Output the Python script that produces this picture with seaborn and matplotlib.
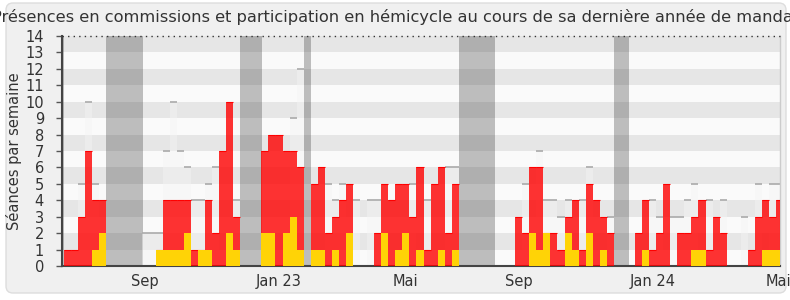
import matplotlib
matplotlib.use("Agg")
import matplotlib.pyplot as plt
import matplotlib.transforms as mtransforms
from matplotlib.patches import FancyBboxPatch
import numpy as np
import pandas as pd
import seaborn as sns

# ---- data: one value per week (week 0 = first week shown) ----
commission = [1, 1, 3, 7, 4, 4, 0, 0, 0, 0,
              0, 0, 0, 1, 4, 4, 4, 4, 1, 1,
              4, 2, 7, 10, 3, 0, 0, 0, 7, 8,
              8, 7, 7, 6, 0, 5, 6, 2, 3, 4,
              5, 0, 0, 0, 2, 5, 4, 5, 5, 3,
              6, 1, 5, 6, 2, 5, 0, 0, 0, 0,
              0, 0, 0, 0, 3, 2, 6, 6, 2, 2,
              1, 3, 4, 1, 5, 4, 3, 2, 0, 0,
              0, 2, 4, 1, 2, 5, 0, 2, 2, 3,
              4, 1, 3, 2, 0, 0, 0, 1, 3, 4,
              3, 4]
hemicycle = [0, 0, 0, 0, 1, 2, 0, 0, 0, 0,
             0, 0, 0, 1, 1, 1, 1, 2, 0, 1,
             1, 0, 0, 2, 1, 0, 0, 0, 2, 2,
             0, 2, 3, 1, 0, 1, 1, 0, 1, 0,
             2, 0, 0, 0, 0, 2, 0, 1, 2, 0,
             1, 0, 0, 1, 0, 1, 0, 0, 0, 0,
             0, 0, 0, 0, 0, 0, 2, 1, 2, 0,
             0, 2, 1, 0, 2, 0, 1, 0, 0, 0,
             0, 0, 1, 0, 0, 0, 0, 0, 0, 1,
             1, 0, 0, 0, 0, 0, 0, 0, 0, 1,
             1, 1]
reference = [0, 0, 5, 10, 5, 0, 0, 0, 0, 0,
             0, 2, 2, 2, 7, 10, 7, 6, 4, 4,
             5, 6, 0, 0, 4, 0, 0, 0, 0, 0,
             0, 0, 9, 12, 0, 0, 0, 5, 4, 5,
             0, 4, 0, 4, 4, 0, 0, 0, 0, 5,
             0, 4, 0, 0, 6, 6, 0, 0, 0, 0,
             0, 0, 0, 0, 0, 5, 0, 7, 4, 4,
             3, 4, 0, 4, 6, 0, 0, 3, 0, 0,
             0, 0, 0, 4, 3, 0, 3, 3, 4, 5,
             0, 4, 0, 4, 0, 0, 3, 0, 5, 0,
             5, 5]
weeks = list(range(len(commission)))

# parliamentary recess periods (in week units, left edge of week 0 = 0)
recess_start = [-0.3, 5.96, 24.96, 34.04, 56.0, 78.0]
recess_end = [0.0, 11.2, 28.1, 35.1, 61.1, 80.1]

tick_labels = ["Sep", "Jan 23", "Mai", "Sep", "Jan 24", "Mai"]
tick_pos = [11.49, 30.43, 48.47, 64.54, 83.48, 101.28]

title = "Présences en commissions et participation en hémicycle au cours de sa dernière année de mandat"
ylabel = "Séances par semaine"

# ---- figure ----
sns.set_theme(style="white")
plt.rcParams["font.family"] = ["DejaVu Sans"]

W, H = 790, 300
fig = plt.figure(figsize=(W / 100, H / 100), dpi=100, facecolor="white")

frame = FancyBboxPatch((6, 7), 780, 290,
                       boxstyle="round,pad=0,rounding_size=7",
                       transform=mtransforms.IdentityTransform(),
                       facecolor="#f0f0f0", edgecolor="#dddddd", linewidth=1,
                       zorder=-10)
fig.patches.append(frame)

left, right, top, bottom = 62, 780, 36, 266
ax = fig.add_axes([left / W, 1 - bottom / H, (right - left) / W, (bottom - top) / H])
ax.set_zorder(1)
ax.set_facecolor("#fafafa")

df = pd.DataFrame({"week": weeks, "commission": commission,
                   "hemicycle": hemicycle, "reference": reference})

# horizontal stripes
for k in range(1, 14, 2):
    ax.axhspan(k, k + 1, color="#e6e6e6", lw=0, zorder=0)

# recess bands (shifted -0.5 because categorical bars are centred on index)
for s, e in zip(recess_start, recess_end):
    ax.axvspan(s - 0.5, e - 0.5, color="#323232", alpha=0.3, lw=0, zorder=1)

sns.barplot(data=df, x="week", y="reference", color="#f4f4f4", saturation=1,
            width=1, alpha=0.45, linewidth=0, ax=ax, zorder=2, errorbar=None)
sns.barplot(data=df, x="week", y="commission", color="#ff0000", saturation=1,
            width=1, alpha=0.8, linewidth=0, ax=ax, zorder=3, errorbar=None)
sns.barplot(data=df, x="week", y="hemicycle", color="#ffd306", saturation=1,
            width=1, linewidth=0, ax=ax, zorder=4, errorbar=None)

w = np.array(weeks)
ref = np.array(reference)
m = ref > 0
ax.hlines(ref[m], w[m] - 0.5, w[m] + 0.5, color="#aaaaaa", lw=1.2, zorder=2.5)
com = np.array(commission)
m = com > 0
ax.hlines(com[m], w[m] - 0.5, w[m] + 0.5, color="#ff0000", lw=0.8, zorder=3.5)

ax.set_xlim(-0.78, 101.06)
ax.set_ylim(0, 14)
ax.axhline(14, color="#333333", lw=1, ls=(0, (1, 3)), clip_on=False, zorder=6)

ax.set_yticks(range(0, 15))
ax.set_yticklabels([str(v) for v in range(0, 15)])
ax.set_xticks([p - 0.5 for p in tick_pos])
ax.set_xticklabels(tick_labels)
ax.tick_params(axis="y", length=4, width=1, color="#555555", pad=9,
               labelsize=10.5, labelcolor="#333333", left=True)
ax.tick_params(axis="x", length=0, pad=6, labelsize=10.5, labelcolor="#333333")
ax.set_xlabel("")
ax.set_ylabel(ylabel, fontsize=10.5, color="#333333")
ax.yaxis.set_label_coords(-(62 - 22) / 718, 0.5)

ax.spines["top"].set_visible(False)
ax.spines["right"].set_color("#cccccc")
ax.spines["right"].set_linewidth(1)
ax.spines["left"].set_color("#444444")
ax.spines["left"].set_linewidth(1.5)
ax.spines["bottom"].set_color("#444444")
ax.spines["bottom"].set_linewidth(1.5)

fig.text(396 / W, 1 - 17 / H, title, ha="center", va="center",
         fontsize=11.7, color="#333333", zorder=5)

fig.savefig("out.png", dpi=100, facecolor="white")
